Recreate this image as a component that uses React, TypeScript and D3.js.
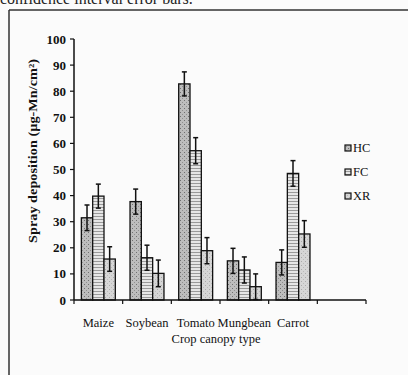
import React from "react";
import * as d3 from "d3";

const categories = ["Maize", "Soybean", "Tomato", "Mungbean", "Carrot"];
const seriesNames = ["HC", "FC", "XR"];
const hcValues = [31.5, 37.7, 82.8, 15, 14.4];
const fcValues = [39.8, 16.2, 57.2, 11.5, 48.5];
const xrValues = [15.7, 10.2, 18.9, 5.1, 25.3];
const hcErr = [4.9, 4.8, 4.6, 4.8, 4.8];
const fcErr = [4.6, 4.8, 5, 5, 4.9];
const xrErr = [4.7, 5.1, 5, 4.9, 5.1];
const yTicks = [0, 10, 20, 30, 40, 50, 60, 70, 80, 90, 100];

const W = 408;
const H = 375;

export default function App() {
  const slots = [...categories, "__blank"];
  const x = d3.scaleBand<string>().domain(slots).range([74, 366]).padding(0);
  const xi = d3
    .scaleBand<string>()
    .domain(seriesNames)
    .range([0, x.bandwidth()])
    .paddingInner(0)
    .paddingOuter(0.65);
  const y = d3.scaleLinear().domain([0, 100]).range([300, 39]);

  const values = [hcValues, fcValues, xrValues];
  const errs = [hcErr, fcErr, xrErr];
  const fills = ["url(#pHC)", "url(#pFC)", "url(#pXR)"];
  const font = "'Liberation Serif', 'DejaVu Serif', serif";
  const tickBounds = [...slots.map((s) => x(s) as number), 366];

  return (
    <svg
      width={W}
      height={H}
      style={{ position: "absolute", left: 0, top: 0, background: "#fbfbfb" }}
    >
      <defs>
        <pattern id="pHC" width="4" height="4" patternUnits="userSpaceOnUse">
          <rect width="4" height="4" fill="#bdbdbd" />
          <rect x="0" y="0" width="1" height="1" fill="#707070" />
          <rect x="2" y="2" width="1" height="1" fill="#909090" />
        </pattern>
        <pattern id="pFC" width="4" height="3" patternUnits="userSpaceOnUse">
          <rect width="4" height="3" fill="#e6e6e6" />
          <rect x="0" y="0" width="4" height="1" fill="#9a9a9a" />
        </pattern>
        <pattern id="pXR" width="4" height="4" patternUnits="userSpaceOnUse">
          <rect width="4" height="4" fill="#d6d6d6" />
          <rect x="1" y="1" width="1" height="1" fill="#aaa" />
          <rect x="3" y="3" width="1" height="1" fill="#bbb" />
        </pattern>
      </defs>

      {/* caption fragment cut at top */}
      <text x={0} y={4} fontFamily={font} fontSize={16} fill="#222">
        confidence interval error bars.
      </text>

      {/* frame */}
      <line x1={9} y1={10} x2={408} y2={10} stroke="#333" strokeWidth={1.5} />
      <line x1={9} y1={10} x2={9} y2={375} stroke="#333" strokeWidth={1.5} />

      {/* bars */}
      {categories.map((c, ci) =>
        seriesNames.map((s, si) => {
          const v = values[si][ci];
          const e = errs[si][ci];
          const bx = (x(c) as number) + (xi(s) as number);
          const bw = xi.bandwidth();
          const cx = bx + bw / 2;
          return (
            <g key={c + s}>
              <rect
                x={bx}
                y={y(v)}
                width={bw}
                height={y(0) - y(v)}
                fill={fills[si]}
                stroke="#111"
                strokeWidth={1.3}
              />
              <line x1={cx} x2={cx} y1={y(v + e)} y2={y(Math.max(0, v - e))} stroke="#111" strokeWidth={1.5} />
              <line x1={cx - 2.5} x2={cx + 2.5} y1={y(v + e)} y2={y(v + e)} stroke="#111" strokeWidth={1.5} />
              <line
                x1={cx - 2.5}
                x2={cx + 2.5}
                y1={y(Math.max(0, v - e))}
                y2={y(Math.max(0, v - e))}
                stroke="#111"
                strokeWidth={1.5}
              />
            </g>
          );
        })
      )}

      {/* y axis */}
      <line x1={74} x2={74} y1={y(0)} y2={y(100)} stroke="#111" strokeWidth={1.5} />
      {yTicks.map((t) => (
        <g key={t}>
          <line x1={70} x2={74} y1={y(t)} y2={y(t)} stroke="#111" strokeWidth={1.2} />
          <text
            x={66}
            y={y(t)}
            dy="0.35em"
            textAnchor="end"
            fontFamily={font}
            fontSize={13}
            fontWeight="bold"
            fill="#111"
          >
            {t}
          </text>
        </g>
      ))}

      {/* x axis */}
      <line x1={74} x2={366} y1={y(0)} y2={y(0)} stroke="#111" strokeWidth={1.5} />
      {tickBounds.map((tx, i) => (
        <line key={i} x1={tx} x2={tx} y1={y(0)} y2={y(0) + 4} stroke="#111" strokeWidth={1.2} />
      ))}
      {categories.map((c) => (
        <text
          key={c}
          x={(x(c) as number) + x.bandwidth() / 2}
          y={323}
          dy="0.35em"
          textAnchor="middle"
          fontFamily={font}
          fontSize={12.5}
          fill="#111"
        >
          {c}
        </text>
      ))}
      <text x={216} y={339} dy="0.35em" textAnchor="middle" fontFamily={font} fontSize={12.5} fill="#111">
        Crop canopy type
      </text>

      {/* y label */}
      <text
        transform={`translate(32,151) rotate(-90)`}
        textAnchor="middle"
        dy="0.35em"
        fontFamily={font}
        fontSize={13}
        fontWeight="bold"
        fill="#111"
        textLength={184}
        lengthAdjust="spacingAndGlyphs"
      >
        Spray deposition (µg-Mn/cm²)
      </text>

      {/* legend */}
      {seriesNames.map((s, i) => {
        const ly = 148 + i * 24;
        return (
          <g key={s}>
            <rect x={345} y={ly - 3} width={6} height={6} fill={fills[i]} stroke="#111" strokeWidth={1.2} />
            <text x={353} y={ly} dy="0.35em" fontFamily={font} fontSize={12.5} fill="#111">
              {s}
            </text>
          </g>
        );
      })}
    </svg>
  );
}
